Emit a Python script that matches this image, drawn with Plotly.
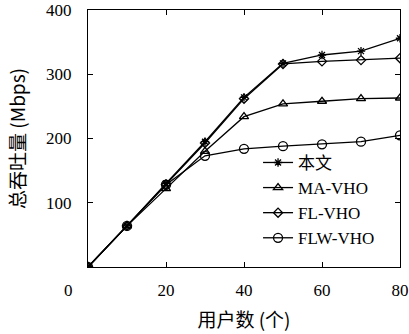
import plotly.graph_objects as go

users = [0, 10, 20, 30, 40, 50, 60, 70, 80]
ours = [0, 64, 130, 195, 264, 317, 330, 336, 356]
ma_vho = [0, 64, 122, 180, 234, 254, 258, 262, 263]
fl_vho = [0, 64, 128, 193, 262, 316, 320, 322, 325]
flw_vho = [0, 64, 128, 173, 184, 188, 191, 195, 205]

series_names = ["本文", "MA-VHO", "FL-VHO", "FLW-VHO"]
x_ticks = [20, 40, 60, 80]
y_ticks = [100, 200, 300, 400]

serif = "Liberation Serif, Noto Sans CJK SC, serif"
cjk = "Noto Sans CJK SC, serif"

fig = go.Figure()
styles = [
    (ours, "asterisk-open", 7),
    (ma_vho, "triangle-up-open", 8),
    (fl_vho, "diamond-open", 7),
    (flw_vho, "circle-open", 9),
]
for name, (vals, sym, sz) in zip(series_names, styles):
    fig.add_trace(go.Scatter(
        x=users, y=vals, name=name, mode="lines+markers",
        line=dict(color="black", width=1.3),
        marker=dict(symbol=sym, size=sz, color="black", line=dict(width=1.3, color="black")),
    ))

fig.update_layout(
    width=409, height=334,
    margin=dict(l=88, r=9, t=10, b=67, autoexpand=False),
    plot_bgcolor="white", paper_bgcolor="white",
    font=dict(family=serif, size=17, color="black"),
    showlegend=True,
    legend=dict(
        x=0.545, y=0.475, xanchor="left", yanchor="top",
        bgcolor="rgba(0,0,0,0)", borderwidth=0,
        font=dict(family=serif, size=17, color="black"),
        tracegroupgap=0, itemwidth=30,
    ),
    xaxis=dict(
        range=[0, 80], tickvals=x_ticks, ticktext=[str(v) for v in x_ticks],
        ticks="inside", ticklen=5, tickcolor="black",
        showline=True, linecolor="black", linewidth=1.2, mirror="ticks",
        showgrid=False, zeroline=False, automargin=False,
        ticklabelstandoff=7,
        tickfont=dict(family=serif, size=17),
        title=dict(text="用户数 (个)", font=dict(family=cjk, size=19)),
    ),
    yaxis=dict(
        range=[0, 400], tickvals=y_ticks, ticktext=[str(v) for v in y_ticks],
        ticks="inside", ticklen=5, tickcolor="black",
        showline=True, linecolor="black", linewidth=1.2, mirror="ticks",
        showgrid=False, zeroline=False, automargin=False,
        ticklabelstandoff=12,
        tickfont=dict(family=serif, size=17),
        title=dict(text="总吞吐量 (Mbps)", font=dict(family=cjk, size=19)),
    ),
)
fig.add_annotation(
    text="0", xref="paper", yref="paper", x=-0.061, y=-0.09,
    xanchor="center", yanchor="middle",
    showarrow=False, font=dict(family=serif, size=17, color="black"),
)
fig.write_html(
    "out.html",
    config={"displayModeBar": False},
    post_script="document.body.style.margin='0';",
)
